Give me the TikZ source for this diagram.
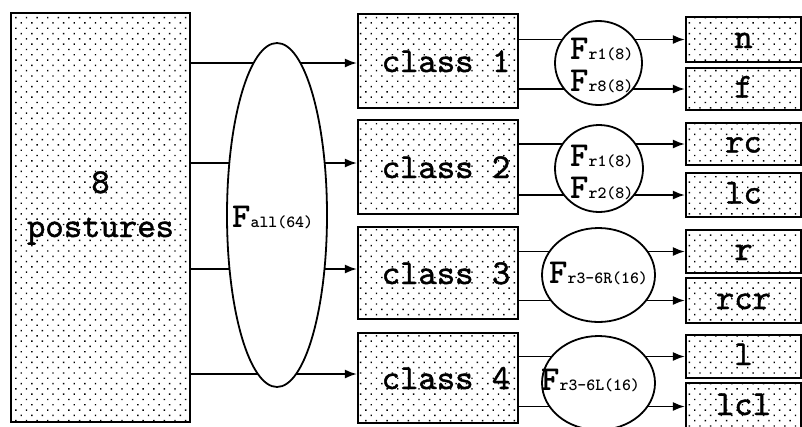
\documentclass[tikz,border=0pt]{standalone}
\usepackage{fontspec}
\usetikzlibrary{shapes.geometric,patterns.meta,arrows.meta}
\newfontfamily\monomed[FakeBold=1.2]{lmmono10-regular.otf}
\newfontfamily\monob{lmmonolt10-bold.otf}
\pgfdeclarelayer{bg}
\pgfsetlayers{bg,main}
\newcommand\Fn[1]{{\monob\fontsize{35}{35}\selectfont F}{\monob\fontsize{17}{17}\selectfont #1}}
\begin{document}
\begin{tikzpicture}[x=1pt,y=-1pt,
 dotbox/.style={draw, line width=2.2pt, rectangle, inner sep=0pt, preaction={fill=white}, pattern={Dots[distance=7.5pt,angle=45,radius=1pt]}},
 word/.style={font=\monomed\fontsize{35}{35}\selectfont},
 clsbox/.style={dotbox, word, minimum width=160pt, text height=22pt, text depth=0pt},
 outbox/.style={dotbox, word, minimum width=115pt, text height=17pt, text depth=0pt},
 fun/.style={draw, ellipse, line width=1.8pt, fill=white, inner sep=0pt},
 flabel/.style={anchor=base west, inner sep=0pt},
 arrow/.style={line width=1.8pt, -{Latex[length=12pt,width=9pt]}}]
\clip (0,0) rectangle (802,426);

% input box
\node[dotbox, minimum width=179pt, minimum height=409pt] (big) at (100.5,217.5) {};
\node[word, anchor=base] (t8) at (100.5,193) {8};
\node[word, anchor=base] (tpost) at (100.5,237) {postures};

% class boxes
\node[clsbox, minimum height=94pt] (c1) at (438,61) {\hspace*{16pt}class 1};
\node[clsbox, minimum height=94pt] (c2) at (438,167) {\hspace*{16pt}class 2};
\node[clsbox, minimum height=92pt] (c3) at (438,273) {\hspace*{16pt}class 3};
\node[clsbox, minimum height=90pt] (c4) at (438,378) {\hspace*{16pt}class 4};

% output boxes
\node[outbox, minimum height=45pt] (n)   at (743.5,39.5)  {n};
\node[outbox, minimum height=42pt] (f)   at (743.5,89)    {f};
\node[outbox, minimum height=42pt] (rc)  at (743.5,144)   {rc};
\node[outbox, minimum height=44pt] (lc)  at (743.5,195)   {lc};
\node[outbox, minimum height=43pt] (r)   at (743.5,251.5) {r};
\node[outbox, minimum height=45pt] (rcr) at (743.5,300.5) {rcr};
\node[outbox, minimum height=43pt] (l)   at (743.5,356.5) {l};
\node[outbox, minimum height=47pt] (lcl) at (743.5,406.5) {lcl};

% classifiers
\node[fun, minimum width=100pt, minimum height=344pt] (fall) at (277,215) {};
\node[fun, minimum width=87pt, minimum height=84pt] (f1) at (598.5,63) {};
\node[fun, minimum width=88pt, minimum height=87pt] (f2) at (599,168.5) {};
\node[fun, minimum width=113pt, minimum height=94pt] (f3) at (598.5,275) {};
\node[fun, minimum width=113pt, minimum height=94pt] (f4) at (598.5,383) {};

\node[flabel] (lall) at (232,227) {\Fn{all(64)}};
\node[flabel] (l1a) at (570,59) {\Fn{r1(8)}};
\node[flabel] (l1b) at (570,91) {\Fn{r8(8)}};
\node[flabel] (l2a) at (570,166) {\Fn{r1(8)}};
\node[flabel] (l2b) at (570,198) {\Fn{r2(8)}};
\node[flabel] (l3) at (549,283) {\Fn{r3-6R(16)}};
\node[flabel] (l4) at (541,390) {\Fn{r3-6L(16)}};

\coordinate (a1) at ([yshift=-2pt]c1.west);
\coordinate (a2) at ([yshift=4pt]c2.west);
\coordinate (a3) at ([yshift=4pt]c3.west);
\coordinate (a4) at ([yshift=4pt]c4.west);

\begin{pgfonlayer}{bg}
\fill[white] (0,0) rectangle (802,426);
\draw[arrow] (big.east |- a1) -- (a1);
\draw[arrow] (big.east |- a2) -- (a2);
\draw[arrow] (big.east |- a3) -- (a3);
\draw[arrow] (big.east |- a4) -- (a4);
\draw[arrow] (c1.east |- n.west) -- (n.west);
\draw[arrow] (c1.east |- f.west) -- (f.west);
\draw[arrow] (c2.east |- rc.west) -- (rc.west);
\draw[arrow] (c2.east |- lc.west) -- (lc.west);
\draw[arrow] (c3.east |- r.west) -- (r.west);
\draw[arrow] (c3.east |- rcr.west) -- (rcr.west);
\draw[arrow] (c4.east |- l.west) -- (l.west);
\draw[arrow] (c4.east |- lcl.west) -- (lcl.west);
\end{pgfonlayer}
\end{tikzpicture}
\end{document}
